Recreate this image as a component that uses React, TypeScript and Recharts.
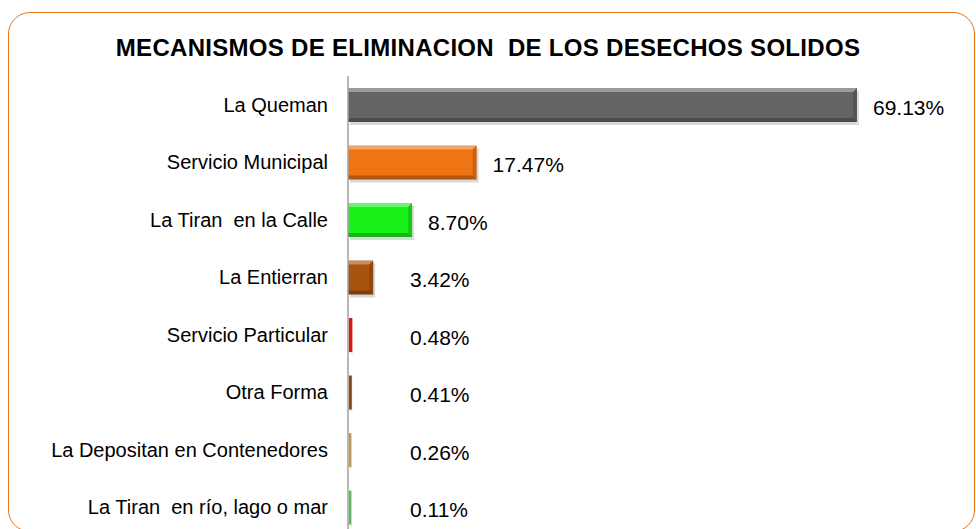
import React from 'react';
import { BarChart, Bar, XAxis, YAxis, Cell, LabelList } from 'recharts';

const categories = [
  'La Queman',
  'Servicio Municipal',
  'La Tiran  en la Calle',
  'La Entierran',
  'Servicio Particular',
  'Otra Forma',
  'La Depositan en Contenedores',
  'La Tiran  en río, lago o mar',
];
const values = [69.13, 17.47, 8.7, 3.42, 0.48, 0.41, 0.26, 0.11];
const barColors = ['#646464', '#EE7414', '#19F019', '#A8540F', '#E01414', '#8A4A1C', '#C49A50', '#5DB860'];

const data = categories.map((name, i) => ({ name, value: values[i] }));
const FONT = '"Liberation Sans", Arial, sans-serif';

const BevelBar = (props: any) => {
  const { x, y, width, height, fill } = props;
  if (width == null || width < 0) return null;
  if (width < 6) {
    const w = Math.max(width, 2.5);
    return (
      <g>
        <rect x={x + 1.5} y={y + 2} width={w} height={height} fill="#000" fillOpacity={0.08} />
        <rect x={x + 0.8} y={y} width={w} height={height} fill={fill} />
      </g>
    );
  }
  const b = Math.max(0, Math.min(4, width / 3, height / 3));
  return (
    <g>
      <rect x={x + 2} y={y + 3} width={width} height={height} fill="#000" fillOpacity={0.15} />
      <rect x={x} y={y} width={width} height={height} fill={fill} />
      <polygon
        points={`${x},${y} ${x + width},${y} ${x + width - b},${y + b} ${x},${y + b}`}
        fill="#fff"
        fillOpacity={0.35}
      />
      <polygon
        points={`${x},${y + height} ${x + width},${y + height} ${x + width - b},${y + height - b} ${x},${y + height - b}`}
        fill="#000"
        fillOpacity={0.25}
      />
      <polygon
        points={`${x + width},${y} ${x + width},${y + height} ${x + width - b},${y + height - b} ${x + width - b},${y + b}`}
        fill="#000"
        fillOpacity={0.15}
      />
    </g>
  );
};

const ValueLabel = (props: any) => {
  const { x, y, width, height, value } = props;
  const lx = Math.max(x + width + 16, x + 62);
  return (
    <text
      x={lx}
      y={y + height / 2 + 2}
      dominantBaseline="central"
      fill="#000"
      fontSize={21}
      fontFamily={FONT}
    >
      {`${Number(value).toFixed(2)}%`}
    </text>
  );
};

const CatTick = (props: any) => {
  const { x, y, payload } = props;
  return (
    <text
      x={x}
      y={y}
      textAnchor="end"
      dominantBaseline="central"
      fill="#000"
      fontSize={20}
      fontFamily={FONT}
      style={{ whiteSpace: 'pre' }}
      xmlSpace="preserve"
    >
      {payload.value}
    </text>
  );
};

export default function App() {
  return (
    <div
      style={{
        position: 'absolute',
        left: 0,
        top: 0,
        width: 976,
        height: 529,
        overflow: 'hidden',
        background: '#fff',
        fontFamily: FONT,
      }}
    >
      <div
        style={{
          position: 'absolute',
          left: 8,
          top: 12,
          width: 967,
          height: 520,
          border: '1.5px solid #E8761A',
          borderRadius: 22,
          boxSizing: 'border-box',
        }}
      />
      <div
        style={{
          position: 'absolute',
          left: 0,
          top: 34,
          width: 976,
          textAlign: 'center',
          fontWeight: 'bold',
          fontSize: 24,
          color: '#000',
          whiteSpace: 'pre',
          letterSpacing: 0.3,
        }}
      >
        {'MECANISMOS DE ELIMINACION  DE LOS DESECHOS SOLIDOS'}
      </div>
      <div style={{ position: 'absolute', left: 0, top: 0 }}>
        <BarChart
          width={976}
          height={545}
          layout="vertical"
          data={data}
          margin={{ top: 76, right: 39, bottom: 9, left: 0 }}
        >
          <XAxis type="number" domain={[0, 80]} hide />
          <YAxis
            type="category"
            dataKey="name"
            width={348}
            axisLine={{ stroke: '#A0A0A0', strokeWidth: 1.5 }}
            tickLine={false}
            tickMargin={14}
            tick={<CatTick />}
            interval={0}
          />
          <Bar dataKey="value" barSize={34} isAnimationActive={false} shape={<BevelBar />}>
            {data.map((d, i) => (
              <Cell key={d.name} fill={barColors[i]} />
            ))}
            <LabelList dataKey="value" content={<ValueLabel />} />
          </Bar>
        </BarChart>
      </div>
    </div>
  );
}
